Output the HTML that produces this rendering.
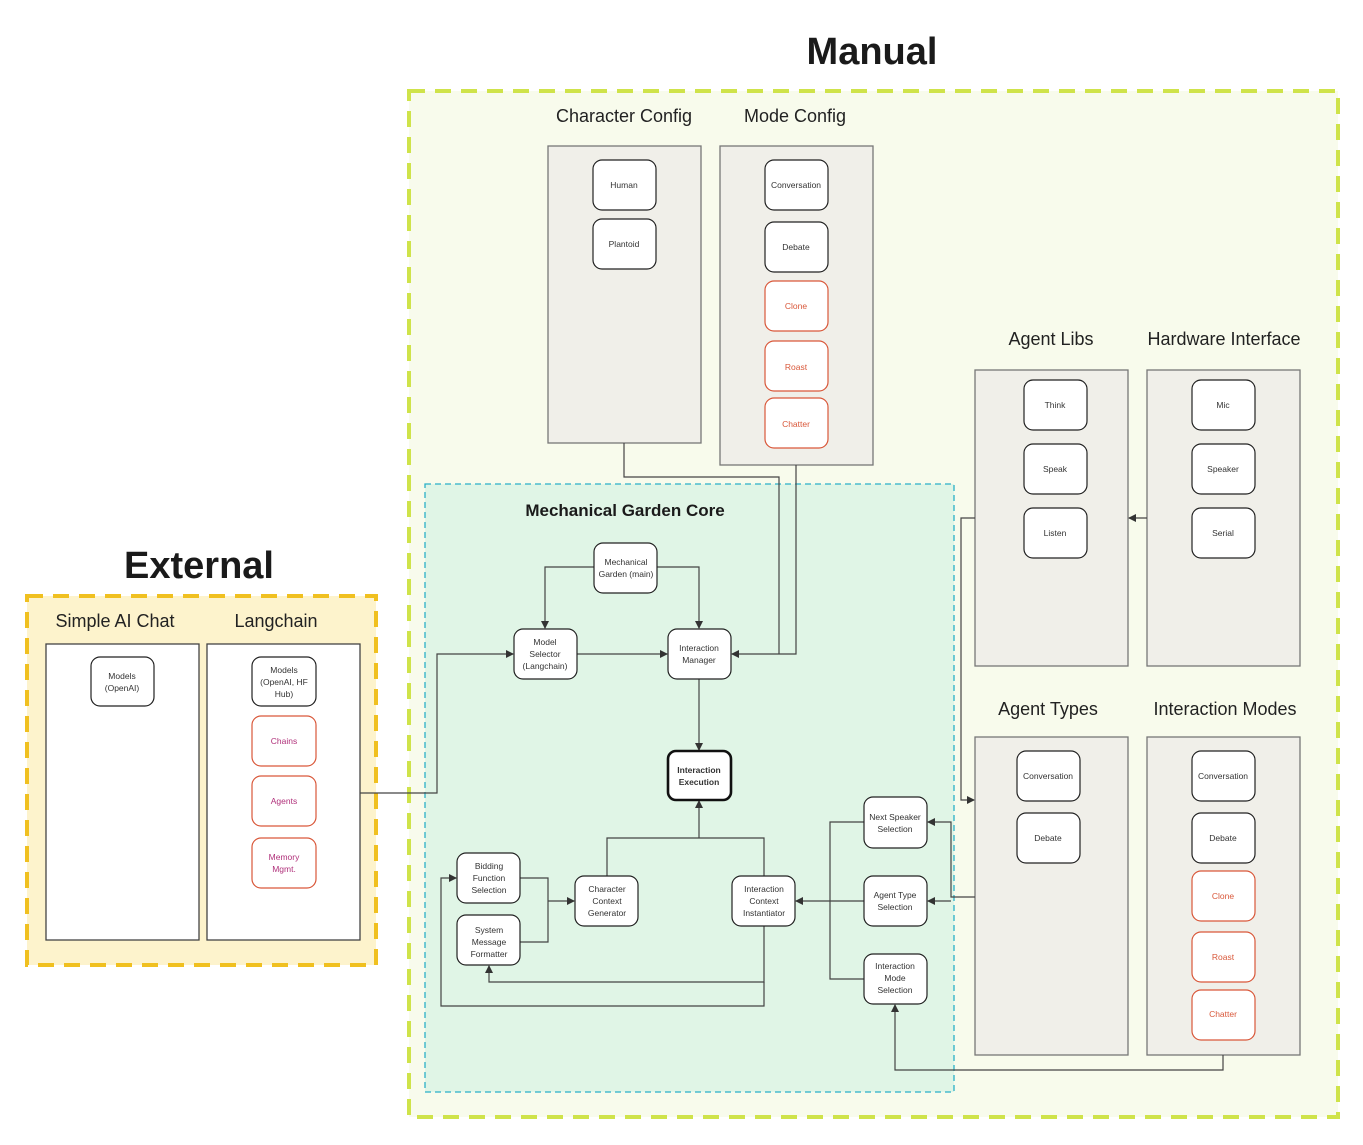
<!DOCTYPE html>
<html><head><meta charset="utf-8"><style>
html,body{margin:0;padding:0;background:#fff;width:1363px;height:1145px;overflow:hidden}
svg{display:block}
text{font-family:"Liberation Sans","DejaVu Sans",sans-serif}
.n{font-size:8.5px;fill:#333;text-anchor:middle}
.r{font-size:8.5px;fill:#d9583a;text-anchor:middle}
.m{font-size:8.5px;fill:#b0307a;text-anchor:middle}
.t{font-size:18px;fill:#222;text-anchor:middle}
.c{stroke:#444;stroke-width:1.2;fill:none}
</style></head><body>
<svg width="1363" height="1145" viewBox="0 0 1363 1145" xmlns="http://www.w3.org/2000/svg">
<defs><marker id="a" markerWidth="8" markerHeight="8" refX="7" refY="4" orient="auto" markerUnits="userSpaceOnUse"><path d="M0,0 L8,4 L0,8 z" fill="#333"/></marker></defs>
<rect x="0" y="0" width="1363" height="1145" fill="#fff"/>
<!-- Manual -->
<rect x="409" y="91" width="929" height="1026" fill="#f8fbec" stroke="#cfe34a" stroke-width="4" stroke-dasharray="16 10"/>
<text x="872" y="64" font-size="38" font-weight="bold" text-anchor="middle" fill="#1a1a1a">Manual</text>
<!-- External -->
<rect x="27" y="596" width="349" height="369" fill="#fdf3cc" stroke="#f0c020" stroke-width="4" stroke-dasharray="16 10"/>
<text x="199" y="578" font-size="38" font-weight="bold" text-anchor="middle" fill="#1a1a1a">External</text>
<!-- Core -->
<rect x="425" y="484" width="529" height="608" fill="#e0f5e6" stroke="#2ab0c8" stroke-width="1.3" stroke-dasharray="6 4"/>
<text x="625" y="516" font-size="17" font-weight="bold" text-anchor="middle" fill="#1a1a1a">Mechanical Garden Core</text>
<!-- containers -->
<g fill="#f0efe9" stroke="#777" stroke-width="1.3">
<rect x="548" y="146" width="153" height="297"/>
<rect x="720" y="146" width="153" height="319"/>
<rect x="975" y="370" width="153" height="296"/>
<rect x="1147" y="370" width="153" height="296"/>
<rect x="975" y="737" width="153" height="318"/>
<rect x="1147" y="737" width="153" height="318"/>
</g>
<g fill="#fff" stroke="#444" stroke-width="1.3">
<rect x="46" y="644" width="153" height="296"/>
<rect x="207" y="644" width="153" height="296"/>
</g>
<text class="t" x="624" y="122">Character Config</text>
<text class="t" x="795" y="122">Mode Config</text>
<text class="t" x="1051" y="345">Agent Libs</text>
<text class="t" x="1224" y="345">Hardware Interface</text>
<text class="t" x="1048" y="715">Agent Types</text>
<text class="t" x="1225" y="715">Interaction Modes</text>
<text class="t" x="115" y="627">Simple AI Chat</text>
<text class="t" x="276" y="627">Langchain</text>
<!-- connectors -->
<g class="c">
<path d="M594,567 H545 V628" marker-end="url(#a)"/>
<path d="M657,567 H699 V628" marker-end="url(#a)"/>
<path d="M577,654 H667" marker-end="url(#a)"/>
<path d="M360,793 H437 V654 H513" marker-end="url(#a)"/>
<path d="M624,443 V477 H779 V654"/>
<path d="M796,465 V654 H732" marker-end="url(#a)"/>
<path d="M699,679 V750" marker-end="url(#a)"/>
<path d="M607,876 V838 H764 V876"/>
<path d="M699,838 V801" marker-end="url(#a)"/>
<path d="M520,878 H548 V942 H520"/>
<path d="M548,901 H574" marker-end="url(#a)"/>
<path d="M764,926 V982 H489 V966" marker-end="url(#a)"/>
<path d="M764,982 V1006 H441 V878 H456" marker-end="url(#a)"/>
<path d="M864,822 H830 V979 H864"/>
<path d="M864,901 H796" marker-end="url(#a)"/>
<path d="M975,897 H951 V822 H928" marker-end="url(#a)"/>
<path d="M951,901 H928" marker-end="url(#a)"/>
<path d="M975,518 H961 V800 H974" marker-end="url(#a)"/>
<path d="M1147,518 H1129" marker-end="url(#a)"/>
<path d="M1223,1055 V1070 H895 V1005" marker-end="url(#a)"/>
</g>
<!-- nodes -->
<g fill="#fff" stroke="#222" stroke-width="1.2">
<rect x="593" y="160" width="63" height="50" rx="9"/>
<rect x="593" y="219" width="63" height="50" rx="9"/>
<rect x="765" y="160" width="63" height="50" rx="9"/>
<rect x="765" y="222" width="63" height="50" rx="9"/>
<rect x="1024" y="380" width="63" height="50" rx="9"/>
<rect x="1024" y="444" width="63" height="50" rx="9"/>
<rect x="1024" y="508" width="63" height="50" rx="9"/>
<rect x="1192" y="380" width="63" height="50" rx="9"/>
<rect x="1192" y="444" width="63" height="50" rx="9"/>
<rect x="1192" y="508" width="63" height="50" rx="9"/>
<rect x="1017" y="751" width="63" height="50" rx="9"/>
<rect x="1017" y="813" width="63" height="50" rx="9"/>
<rect x="1192" y="751" width="63" height="50" rx="9"/>
<rect x="1192" y="813" width="63" height="50" rx="9"/>
<rect x="91" y="657" width="63" height="49" rx="9"/>
<rect x="252" y="657" width="64" height="49" rx="9"/>
<rect x="594" y="543" width="63" height="50" rx="9"/>
<rect x="514" y="629" width="63" height="50" rx="9"/>
<rect x="668" y="629" width="63" height="50" rx="9"/>
<rect x="457" y="853" width="63" height="50" rx="9"/>
<rect x="457" y="915" width="63" height="50" rx="9"/>
<rect x="575" y="876" width="63" height="50" rx="9"/>
<rect x="732" y="876" width="63" height="50" rx="9"/>
<rect x="864" y="797" width="63" height="51" rx="9"/>
<rect x="864" y="876" width="63" height="50" rx="9"/>
<rect x="864" y="954" width="63" height="50" rx="9"/>
</g>
<rect x="668" y="751" width="63" height="49" rx="8" fill="#fff" stroke="#111" stroke-width="2.6"/>
<g fill="#fff" stroke="#d9583a" stroke-width="1.2">
<rect x="765" y="281" width="63" height="50" rx="9"/>
<rect x="765" y="341" width="63" height="50" rx="9"/>
<rect x="765" y="398" width="63" height="50" rx="9"/>
<rect x="1192" y="871" width="63" height="50" rx="9"/>
<rect x="1192" y="932" width="63" height="50" rx="9"/>
<rect x="1192" y="990" width="63" height="50" rx="9"/>
<rect x="252" y="716" width="64" height="50" rx="9"/>
<rect x="252" y="776" width="64" height="50" rx="9"/>
<rect x="252" y="838" width="64" height="50" rx="9"/>
</g>
<text class="n" x="624" y="188">Human</text>
<text class="n" x="624" y="247">Plantoid</text>
<text class="n" x="796" y="188">Conversation</text>
<text class="n" x="796" y="250">Debate</text>
<text class="r" x="796" y="309">Clone</text>
<text class="r" x="796" y="370">Roast</text>
<text class="r" x="796" y="427">Chatter</text>
<text class="n" x="1055" y="408">Think</text>
<text class="n" x="1055" y="472">Speak</text>
<text class="n" x="1055" y="536">Listen</text>
<text class="n" x="1223" y="408">Mic</text>
<text class="n" x="1223" y="472">Speaker</text>
<text class="n" x="1223" y="536">Serial</text>
<text class="n" x="1048" y="779">Conversation</text>
<text class="n" x="1048" y="841">Debate</text>
<text class="n" x="1223" y="779">Conversation</text>
<text class="n" x="1223" y="841">Debate</text>
<text class="r" x="1223" y="899">Clone</text>
<text class="r" x="1223" y="960">Roast</text>
<text class="r" x="1223" y="1017">Chatter</text>
<text class="n" x="122" y="679">Models</text><text class="n" x="122" y="691">(OpenAI)</text>
<text class="n" x="284" y="673">Models</text><text class="n" x="284" y="685">(OpenAI, HF</text><text class="n" x="284" y="697">Hub)</text>
<text class="m" x="284" y="744">Chains</text>
<text class="m" x="284" y="804">Agents</text>
<text class="m" x="284" y="860">Memory</text><text class="m" x="284" y="872">Mgmt.</text>
<text class="n" x="626" y="565">Mechanical</text><text class="n" x="626" y="577">Garden (main)</text>
<text class="n" x="545" y="645">Model</text><text class="n" x="545" y="657">Selector</text><text class="n" x="545" y="669">(Langchain)</text>
<text class="n" x="699" y="651">Interaction</text><text class="n" x="699" y="663">Manager</text>
<text class="n" x="699" y="773" font-weight="bold">Interaction</text><text class="n" x="699" y="785" font-weight="bold">Execution</text>
<text class="n" x="489" y="869">Bidding</text><text class="n" x="489" y="881">Function</text><text class="n" x="489" y="893">Selection</text>
<text class="n" x="489" y="933">System</text><text class="n" x="489" y="945">Message</text><text class="n" x="489" y="957">Formatter</text>
<text class="n" x="607" y="892">Character</text><text class="n" x="607" y="904">Context</text><text class="n" x="607" y="916">Generator</text>
<text class="n" x="764" y="892">Interaction</text><text class="n" x="764" y="904">Context</text><text class="n" x="764" y="916">Instantiator</text>
<text class="n" x="895" y="820">Next Speaker</text><text class="n" x="895" y="832">Selection</text>
<text class="n" x="895" y="898">Agent Type</text><text class="n" x="895" y="910">Selection</text>
<text class="n" x="895" y="969">Interaction</text><text class="n" x="895" y="981">Mode</text><text class="n" x="895" y="993">Selection</text>
</svg>
</body></html>
